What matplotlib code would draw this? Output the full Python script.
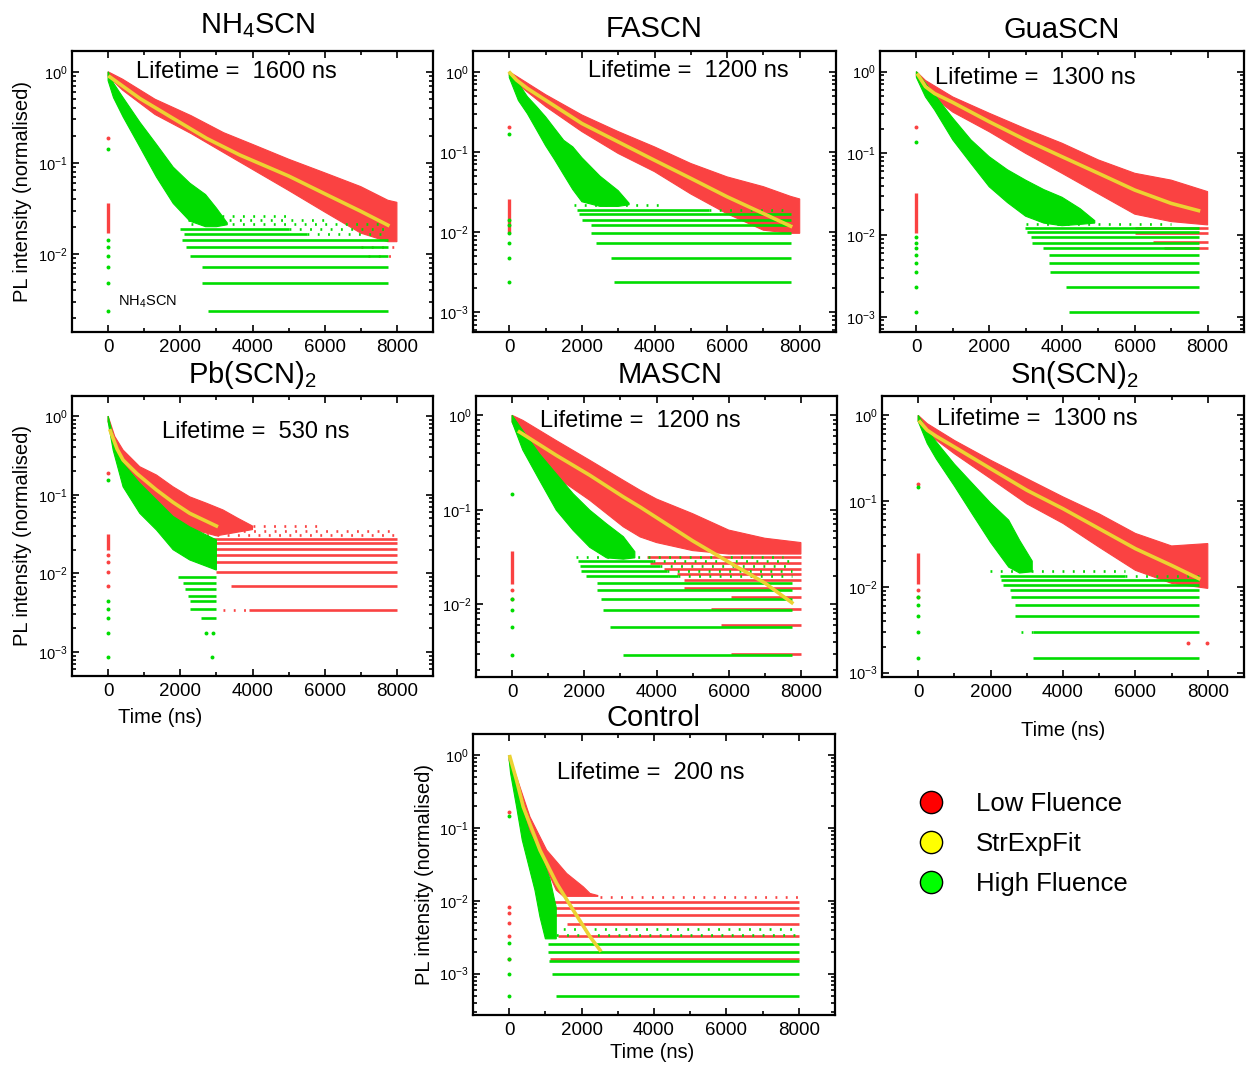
import numpy as np
import matplotlib
matplotlib.use('Agg')
import matplotlib.pyplot as plt
from matplotlib.lines import Line2D
from matplotlib.ticker import LogLocator, MultipleLocator, LogFormatterSciNotation, NullFormatter

plt.rcParams['font.family'] = ['Liberation Sans', 'DejaVu Sans']
plt.rcParams['mathtext.fontset'] = 'custom'
plt.rcParams['mathtext.rm'] = 'Liberation Sans'
plt.rcParams['mathtext.it'] = 'Liberation Sans:italic'
plt.rcParams['mathtext.bf'] = 'Liberation Sans:bold'
plt.rcParams['mathtext.default'] = 'regular'

RED = '#fa4242'
GREEN = '#00dc00'
YELLOW = '#ecd232'

# ---------------- NH4SCN ----------------
nh4_red_t = [0, 400, 1300, 2300, 3200, 4000, 5000, 6000, 7000, 7750, 8000]
nh4_red_top = [1.0, 0.83, 0.50, 0.33, 0.215, 0.16, 0.11, 0.078, 0.055, 0.039, 0.037]
nh4_red_bot = [0.90, 0.63, 0.34, 0.21, 0.13, 0.085, 0.050, 0.029, 0.017, 0.0137, 0.0137]
nh4_grn_t = [0, 150, 416, 879, 1340, 1803, 2266, 2700, 3000, 3300]
nh4_grn_top = [1.0, 0.75, 0.52, 0.28, 0.16, 0.09, 0.06, 0.045, 0.032, 0.022]
nh4_grn_bot = [0.80, 0.52, 0.32, 0.15, 0.07, 0.036, 0.023, 0.020, 0.020, 0.021]
nh4_fit_t = [47, 879, 1803, 2730, 3653, 5000, 6000, 7000, 7750]
nh4_fit_y = [0.88, 0.51, 0.308, 0.186, 0.122, 0.072, 0.046, 0.0295, 0.0208]
nh4_grn_rows = [0.0191, 0.0167, 0.0143, 0.0119, 0.0096, 0.0073, 0.0048, 0.0024]
nh4_grn_from = [1990, 2100, 2060, 2170, 2270, 2610, 2610, 2780]
nh4_grn_to = [5000, 5500, 7750, 7750, 7750, 7750, 7750, 7750]
nh4_grn_sparse = [0.0263, 0.0239, 0.0215, 0.0191, 0.0167]
nh4_grn_sparse_from = [2300, 2200, 2300, 5000, 5500]
nh4_grn_sparse_to = [5000, 6000, 7500, 7750, 7750]
nh4_red_sparse = [0.0119, 0.0096]
nh4_red_sparse_from = [7000, 7200]
nh4_red_sparse_to = [8000, 8000]
nh4_red_zero = [0.017, 0.036]
nh4_red_zero_pts = [0.19]
nh4_grn_zero_pts = [0.144, 0.0143, 0.0119, 0.0096, 0.0073, 0.0048, 0.0024]

# ---------------- FASCN ----------------
fa_red_t = [0, 200, 1000, 2000, 3000, 4000, 5000, 6000, 7000, 7750, 8000]
fa_red_top = [1.0, 0.88, 0.52, 0.29, 0.18, 0.116, 0.072, 0.049, 0.037, 0.028, 0.026]
fa_red_bot = [0.90, 0.72, 0.37, 0.18, 0.096, 0.057, 0.030, 0.017, 0.0106, 0.0097, 0.0097]
fa_grn_t = [0, 250, 500, 750, 1000, 1250, 1500, 1750, 2000, 2500, 3000, 3300]
fa_grn_top = [1.0, 0.72, 0.49, 0.37, 0.275, 0.196, 0.14, 0.116, 0.085, 0.05, 0.033, 0.023]
fa_grn_bot = [0.85, 0.44, 0.30, 0.19, 0.12, 0.08, 0.052, 0.034, 0.024, 0.021, 0.021, 0.022]
fa_fit_t = [20, 200, 500, 1000, 2000, 3000, 4000, 5000, 6000, 7000, 7750]
fa_fit_y = [0.97, 0.79, 0.62, 0.444, 0.227, 0.134, 0.079, 0.047, 0.0277, 0.0171, 0.0119]
fa_grn_rows = [0.0192, 0.0168, 0.0144, 0.0122, 0.0097, 0.0073, 0.0048, 0.0024]
fa_grn_from = [1860, 1910, 2000, 2250, 2250, 2390, 2790, 2880]
fa_grn_to = [5500, 7750, 7750, 7750, 7750, 7750, 7750, 7750]
fa_grn_sparse = [0.0218, 0.0192]
fa_grn_sparse_from = [1790, 5500]
fa_grn_sparse_to = [4200, 7750]
fa_red_zero = [0.0097, 0.026]
fa_red_zero_pts = [0.206]
fa_grn_zero_pts = [0.166, 0.0144, 0.0122, 0.0097, 0.0073, 0.0048, 0.0024]

# ---------------- GuaSCN ----------------
gua_red_t = [0, 250, 1000, 2000, 3000, 4000, 5000, 6000, 7000, 8000]
gua_red_top = [1.0, 0.78, 0.49, 0.31, 0.20, 0.133, 0.083, 0.057, 0.047, 0.034]
gua_red_bot = [0.88, 0.58, 0.32, 0.184, 0.10, 0.057, 0.032, 0.018, 0.0146, 0.0133]
gua_grn_t = [0, 250, 500, 1000, 1500, 2000, 2500, 3000, 3500, 4000, 4500, 4900]
gua_grn_top = [1.0, 0.72, 0.52, 0.27, 0.146, 0.091, 0.063, 0.047, 0.036, 0.029, 0.021, 0.015]
gua_grn_bot = [0.85, 0.49, 0.34, 0.146, 0.075, 0.039, 0.025, 0.017, 0.014, 0.013, 0.0135, 0.014]
gua_fit_t = [46, 250, 500, 1000, 2000, 3000, 4000, 5000, 6000, 7000, 7750]
gua_fit_y = [0.91, 0.655, 0.54, 0.42, 0.244, 0.146, 0.091, 0.057, 0.0355, 0.0244, 0.0199]
gua_grn_rows = [0.0123, 0.0108, 0.0094, 0.0081, 0.0069, 0.0057, 0.0045, 0.0035, 0.0023, 0.00115]
gua_grn_from = [2990, 3030, 3140, 3170, 3490, 3630, 3630, 3680, 4120, 4180]
gua_grn_to = [7750] * 10
gua_grn_sparse = [0.0138]
gua_grn_sparse_from = [3000]
gua_grn_sparse_to = [7000]
gua_red_rows = [0.0123, 0.0106, 0.0083, 0.0069]
gua_red_from = [6000, 6000, 6500, 6800]
gua_red_to = [8000, 8000, 8000, 8000]
gua_red_zero = [0.0105, 0.033]
gua_red_zero_pts = [0.21]
gua_grn_zero_pts = [0.139, 0.0094, 0.0081, 0.0069, 0.0057, 0.0045, 0.0035, 0.0023, 0.00115]

# ---------------- Pb(SCN)2 ----------------
pb_red_top_t = [0, 185, 415, 877, 1340, 1800, 2261, 2723, 3184, 3600, 4000]
pb_red_top = [1.0, 0.55, 0.37, 0.227, 0.178, 0.126, 0.094, 0.078, 0.064, 0.05, 0.04]
pb_red_bot_t = [0, 500, 1000, 2000, 3000, 4000]
pb_red_bot = [0.85, 0.2, 0.1, 0.04, 0.03, 0.036]
pb_grn_t = [0, 140, 415, 877, 1340, 1800, 2261, 3000]
pb_grn_top = [1.0, 0.55, 0.25, 0.14, 0.086, 0.053, 0.039, 0.0266]
pb_grn_bot = [0.85, 0.37, 0.126, 0.058, 0.0356, 0.02, 0.0148, 0.011]
pb_fit_t = [60, 250, 415, 800, 1340, 1800, 2261, 3000]
pb_fit_y = [0.65, 0.38, 0.276, 0.185, 0.115, 0.080, 0.058, 0.040]
pb_grn_rows = [0.0091, 0.0075, 0.0063, 0.0052, 0.0044, 0.0035, 0.0027]
pb_grn_from = [1940, 2080, 2120, 2210, 2260, 2260, 2580]
pb_grn_to = [3000] * 7
pb_grn_dots_t = [2720, 2900, 2870]
pb_grn_dots_y = [0.00176, 0.00176, 0.00087]
pb_red_rows = [0.0276, 0.0241, 0.0207, 0.0172, 0.0138, 0.01035, 0.0069, 0.00345]
pb_red_from = [2120, 2170, 2540, 2720, 3000, 3000, 3410, 3900]
pb_red_to = [8000] * 8
pb_red_sparse = [0.040, 0.0345, 0.031, 0.00345]
pb_red_sparse_from = [4000, 3460, 2170, 3180]
pb_red_sparse_to = [6000, 8000, 8000, 3900]
pb_red_zero = [0.0198, 0.032]
pb_red_zero_pts = [0.187, 0.0172, 0.0138, 0.0105, 0.0069]
pb_grn_zero_pts = [0.154, 0.0044, 0.0035, 0.0027, 0.00176, 0.00087]

# ---------------- MASCN ----------------
ma_red_t = [0, 295, 1225, 2153, 3081, 3546, 4000, 5000, 6000, 7000, 8000]
ma_red_top = [1.0, 0.885, 0.54, 0.334, 0.205, 0.161, 0.13, 0.091, 0.061, 0.05, 0.045]
ma_red_bot = [0.85, 0.50, 0.222, 0.126, 0.066, 0.0516, 0.045, 0.037, 0.034, 0.034, 0.034]
ma_grn_t = [0, 295, 760, 1225, 1690, 2153, 2617, 3081, 3400]
ma_grn_top = [1.0, 0.69, 0.39, 0.24, 0.148, 0.099, 0.071, 0.052, 0.036]
ma_grn_bot = [0.85, 0.43, 0.205, 0.099, 0.0607, 0.040, 0.031, 0.030, 0.031]
ma_fit_t = [203, 1225, 2153, 3081, 3546, 5000, 6000, 7000, 7750]
ma_fit_y = [0.667, 0.377, 0.232, 0.137, 0.107, 0.047, 0.028, 0.0168, 0.0104]
ma_grn_rows = [0.0288, 0.0255, 0.0225, 0.0198, 0.0169, 0.0143, 0.0115, 0.00864, 0.00575, 0.00288]
ma_grn_from = [1830, 1870, 1920, 2060, 2340, 2340, 2450, 2520, 2710, 3080]
ma_grn_to = [3900, 4100, 4300, 4600, 7750, 7750, 7750, 7750, 7750, 7750]
ma_grn_sparse = [0.0317, 0.0288, 0.0255, 0.0225, 0.0198]
ma_grn_sparse_from = [1780, 3900, 4100, 4300, 4600]
ma_grn_sparse_to = [7500, 7750, 7750, 7750, 7750]
ma_red_rows = [0.0317, 0.0276, 0.0238, 0.0208, 0.018, 0.0149, 0.012, 0.009, 0.006, 0.003]
ma_red_from = [3730, 3820, 4200, 4570, 4750, 4750, 6050, 5500, 5800, 6050]
ma_red_to = [8000] * 10
ma_red_zero = [0.0165, 0.037]
ma_red_zero_pts = [0.0143, 0.0115]
ma_grn_zero_pts = [0.148, 0.0115, 0.0086, 0.0058, 0.0029]

# ---------------- Sn(SCN)2 ----------------
sn_red_t = [0, 250, 1000, 2000, 3000, 4000, 5000, 6000, 7000, 8000]
sn_red_top = [1.0, 0.80, 0.51, 0.30, 0.183, 0.112, 0.071, 0.042, 0.030, 0.032]
sn_red_bot = [0.85, 0.62, 0.357, 0.183, 0.093, 0.055, 0.029, 0.0156, 0.011, 0.0096]
sn_grn_t = [0, 250, 500, 1000, 1500, 2000, 2500, 2800, 3150]
sn_grn_top = [1.0, 0.67, 0.49, 0.27, 0.16, 0.095, 0.06, 0.035, 0.02]
sn_grn_bot = [0.85, 0.47, 0.31, 0.15, 0.07, 0.033, 0.017, 0.0145, 0.015]
sn_fit_t = [50, 250, 500, 1000, 2000, 3000, 4000, 5000, 6000, 7000, 7750]
sn_fit_y = [0.84, 0.67, 0.57, 0.428, 0.239, 0.134, 0.0816, 0.0477, 0.0279, 0.0178, 0.0125]
sn_grn_rows = [0.0135, 0.0119, 0.0106, 0.0091, 0.0076, 0.0061, 0.0046, 0.0030, 0.0015]
sn_grn_from = [2250, 2300, 2340, 2530, 2550, 2670, 2670, 3180, 3180]
sn_grn_to = [5700, 7750, 7750, 7750, 7750, 7750, 7750, 7750, 7750]
sn_grn_sparse = [0.0153, 0.0135, 0.0030]
sn_grn_sparse_from = [1970, 5700, 2850]
sn_grn_sparse_to = [5700, 7750, 3180]
sn_red_dots_t = [7440, 7980]
sn_red_dots_y = [0.0022, 0.0022]
sn_red_zero = [0.0109, 0.0245]
sn_red_zero_pts = [0.16, 0.0091, 0.0076]
sn_grn_zero_pts = [0.146, 0.0076, 0.0061, 0.0046, 0.0030, 0.0015]

# ---------------- Control ----------------
ct_red_top_t = [0, 296, 573, 1035, 1589, 2050, 2234, 2450]
ct_red_top = [1.0, 0.367, 0.142, 0.0496, 0.0237, 0.0155, 0.0126, 0.0118]
ct_red_bot_t = [0, 200, 400, 700, 1000, 1300, 1500, 2450]
ct_red_bot = [0.85, 0.3, 0.15, 0.06, 0.03, 0.014, 0.0115, 0.0115]
ct_grn_top_t = [0, 158, 343, 555, 900, 1126, 1300]
ct_grn_top = [1.0, 0.56, 0.195, 0.09, 0.04, 0.02, 0.008]
ct_grn_bot_t = [0, 39, 204, 361, 711, 850, 1000, 1300]
ct_grn_bot = [0.85, 0.56, 0.195, 0.068, 0.014, 0.006, 0.003, 0.003]
ct_fit_t = [19, 204, 388, 850, 1312, 1771, 2234, 2510]
ct_fit_y = [0.95, 0.45, 0.195, 0.0496, 0.0173, 0.0074, 0.0032, 0.0021]
ct_grn_rows = [0.00253, 0.00198, 0.00149, 0.001, 0.00049]
ct_grn_from = [1060, 1060, 1110, 1170, 1290]
ct_grn_to = [8000] * 5
ct_grn_sparse = [0.00415, 0.00336]
ct_grn_sparse_from = [1220, 1030]
ct_grn_sparse_to = [8000, 8000]
ct_red_rows = [0.00964, 0.00806, 0.00646, 0.00486, 0.00329, 0.00161]
ct_red_from = [1170, 1030, 1220, 1590, 1360, 1130]
ct_red_to = [8000] * 6
ct_red_sparse = [0.0113]
ct_red_sparse_from = [2510]
ct_red_sparse_to = [8000]
ct_red_zero_pts = [0.166, 0.0083, 0.0067, 0.005, 0.0033, 0.0016]
ct_grn_zero_pts = [0.145, 0.0026, 0.0016, 0.001, 0.0005]

titles = [r'NH$_4$SCN', 'FASCN', 'GuaSCN', r'Pb(SCN)$_2$', 'MASCN', r'Sn(SCN)$_2$', 'Control']
lifetimes = [1600, 1200, 1300, 530, 1200, 1300, 200]

W, H = 1251, 1068
fig = plt.figure(figsize=(W / 100, H / 100), dpi=100)


def new_axes(l, t, r, b):
    return fig.add_axes([l / W, 1 - b / H, (r - l) / W, (b - t) / H])


def cloud(ax, top_t, top_y, bot_t, bot_y, color, z):
    xs = list(top_t) + list(bot_t)[::-1]
    ys = list(top_y) + list(bot_y)[::-1]
    ax.fill(xs, ys, color=color, lw=0.8, zorder=z)


def rows(ax, y, x0, x1, color, z, sparse=False):
    if sparse:
        ax.hlines(y, x0, x1, colors=color, lw=1.9, linestyles=(0, (0.7, 3.2)), zorder=z)
    else:
        ax.hlines(y, x0, x1, colors=color, lw=1.9, zorder=z)


def zero_col(ax, pts, color, z, strip=None):
    if strip is not None:
        ax.vlines(0, strip[0], strip[1], colors=color, lw=2.4, zorder=z)
    ax.scatter(np.zeros(len(pts)), pts, s=8, color=color, lw=0, zorder=z)


def style(ax, ylim, title, tpad, tx, life, lx, ly):
    ax.set_yscale('log')
    ax.set_xlim(-1000, 9000)
    ax.set_ylim(*ylim)
    ax.xaxis.set_major_locator(MultipleLocator(2000))
    ax.xaxis.set_minor_locator(MultipleLocator(1000))
    ax.yaxis.set_major_locator(LogLocator(base=10, numticks=10))
    ax.yaxis.set_minor_locator(LogLocator(base=10, subs=np.arange(2, 10), numticks=20))
    ax.yaxis.set_major_formatter(LogFormatterSciNotation())
    ax.yaxis.set_minor_formatter(NullFormatter())
    ax.tick_params(which='both', direction='in', top=True, right=True, width=1.2)
    ax.tick_params(which='major', length=5)
    ax.tick_params(which='minor', length=3)
    ax.tick_params(axis='x', labelsize=13.5, pad=5)
    ax.tick_params(axis='y', labelsize=10.5, pad=3)
    for s in ax.spines.values():
        s.set_linewidth(1.6)
    ax.set_title(title, fontsize=21, pad=tpad, x=tx)
    ax.text(lx, ly, 'Lifetime =  %d ns' % life, transform=ax.transAxes,
            fontsize=17, ha='left', va='center', zorder=10)


ylims = [(0.0014, 1.69), (0.00057, 1.82), (0.00065, 1.79), (0.000495, 1.80),
         (0.0017, 1.6), (0.00089, 1.68), (0.00027, 1.95)]

# ---- panel 1: NH4SCN
ax1 = new_axes(72, 51, 433, 332)
cloud(ax1, nh4_red_t, nh4_red_top, nh4_red_t, nh4_red_bot, RED, 1)
rows(ax1, nh4_red_sparse, nh4_red_sparse_from, nh4_red_sparse_to, RED, 1, sparse=True)
zero_col(ax1, nh4_red_zero_pts, RED, 1, nh4_red_zero)
cloud(ax1, nh4_grn_t, nh4_grn_top, nh4_grn_t, nh4_grn_bot, GREEN, 2)
rows(ax1, nh4_grn_rows, nh4_grn_from, nh4_grn_to, GREEN, 2)
rows(ax1, nh4_grn_sparse, nh4_grn_sparse_from, nh4_grn_sparse_to, GREEN, 2, sparse=True)
zero_col(ax1, nh4_grn_zero_pts, GREEN, 2)
ax1.plot(nh4_fit_t, nh4_fit_y, color=YELLOW, lw=2.6, zorder=3)
style(ax1, ylims[0], titles[0], 13, 0.515, lifetimes[0], 0.177, 0.925)
ax1.text(0.127, 0.107, r'NH$_4$SCN', transform=ax1.transAxes, fontsize=10.5, va='center')

# ---- panel 2: FASCN
ax2 = new_axes(473, 51, 836, 332)
cloud(ax2, fa_red_t, fa_red_top, fa_red_t, fa_red_bot, RED, 1)
zero_col(ax2, fa_red_zero_pts, RED, 1, fa_red_zero)
cloud(ax2, fa_grn_t, fa_grn_top, fa_grn_t, fa_grn_bot, GREEN, 2)
rows(ax2, fa_grn_rows, fa_grn_from, fa_grn_to, GREEN, 2)
rows(ax2, fa_grn_sparse, fa_grn_sparse_from, fa_grn_sparse_to, GREEN, 2, sparse=True)
zero_col(ax2, fa_grn_zero_pts, GREEN, 2)
ax2.plot(fa_fit_t, fa_fit_y, color=YELLOW, lw=2.6, zorder=3)
style(ax2, ylims[1], titles[1], 10, 0.5, lifetimes[1], 0.317, 0.929)

# ---- panel 3: GuaSCN
ax3 = new_axes(880, 51, 1244, 332)
cloud(ax3, gua_red_t, gua_red_top, gua_red_t, gua_red_bot, RED, 1)
rows(ax3, gua_red_rows, gua_red_from, gua_red_to, RED, 1)
zero_col(ax3, gua_red_zero_pts, RED, 1, gua_red_zero)
cloud(ax3, gua_grn_t, gua_grn_top, gua_grn_t, gua_grn_bot, GREEN, 2)
rows(ax3, gua_grn_rows, gua_grn_from, gua_grn_to, GREEN, 2)
rows(ax3, gua_grn_sparse, gua_grn_sparse_from, gua_grn_sparse_to, GREEN, 2, sparse=True)
zero_col(ax3, gua_grn_zero_pts, GREEN, 2)
ax3.plot(gua_fit_t, gua_fit_y, color=YELLOW, lw=2.6, zorder=3)
style(ax3, ylims[2], titles[2], 9.5, 0.5, lifetimes[2], 0.151, 0.904)

# ---- panel 4: Pb(SCN)2
ax4 = new_axes(72, 396, 433, 676)
cloud(ax4, pb_red_top_t, pb_red_top, pb_red_bot_t, pb_red_bot, RED, 1)
rows(ax4, pb_red_rows, pb_red_from, pb_red_to, RED, 1)
rows(ax4, pb_red_sparse, pb_red_sparse_from, pb_red_sparse_to, RED, 1, sparse=True)
zero_col(ax4, pb_red_zero_pts, RED, 1, pb_red_zero)
cloud(ax4, pb_grn_t, pb_grn_top, pb_grn_t, pb_grn_bot, GREEN, 2)
rows(ax4, pb_grn_rows, pb_grn_from, pb_grn_to, GREEN, 2)
ax4.scatter(pb_grn_dots_t, pb_grn_dots_y, s=8, color=GREEN, lw=0, zorder=2)
zero_col(ax4, pb_grn_zero_pts, GREEN, 2)
ax4.plot(pb_fit_t, pb_fit_y, color=YELLOW, lw=2.6, zorder=3)
style(ax4, ylims[3], titles[3], 9.5, 0.5, lifetimes[3], 0.249, 0.871)

# ---- panel 5: MASCN
ax5 = new_axes(476, 396, 837, 677)
cloud(ax5, ma_red_t, ma_red_top, ma_red_t, ma_red_bot, RED, 1)
rows(ax5, ma_red_rows, ma_red_from, ma_red_to, RED, 1)
zero_col(ax5, ma_red_zero_pts, RED, 1, ma_red_zero)
cloud(ax5, ma_grn_t, ma_grn_top, ma_grn_t, ma_grn_bot, GREEN, 2)
rows(ax5, ma_grn_rows, ma_grn_from, ma_grn_to, GREEN, 2)
rows(ax5, ma_grn_sparse, ma_grn_sparse_from, ma_grn_sparse_to, GREEN, 2, sparse=True)
zero_col(ax5, ma_grn_zero_pts, GREEN, 2)
ax5.plot(ma_fit_t, ma_fit_y, color=YELLOW, lw=2.6, zorder=3)
style(ax5, ylims[4], titles[4], 9.5, 0.537, lifetimes[4], 0.178, 0.91)

# ---- panel 6: Sn(SCN)2
ax6 = new_axes(882, 396, 1244, 677)
cloud(ax6, sn_red_t, sn_red_top, sn_red_t, sn_red_bot, RED, 1)
ax6.scatter(sn_red_dots_t, sn_red_dots_y, s=8, color=RED, lw=0, zorder=1)
zero_col(ax6, sn_red_zero_pts, RED, 1, sn_red_zero)
cloud(ax6, sn_grn_t, sn_grn_top, sn_grn_t, sn_grn_bot, GREEN, 2)
rows(ax6, sn_grn_rows, sn_grn_from, sn_grn_to, GREEN, 2)
rows(ax6, sn_grn_sparse, sn_grn_sparse_from, sn_grn_sparse_to, GREEN, 2, sparse=True)
zero_col(ax6, sn_grn_zero_pts, GREEN, 2)
ax6.plot(sn_fit_t, sn_fit_y, color=YELLOW, lw=2.6, zorder=3)
style(ax6, ylims[5], titles[5], 9.5, 0.533, lifetimes[5], 0.152, 0.917)

# ---- panel 7: Control
ax7 = new_axes(473, 734, 835, 1015)
cloud(ax7, ct_red_top_t, ct_red_top, ct_red_bot_t, ct_red_bot, RED, 1)
rows(ax7, ct_red_rows, ct_red_from, ct_red_to, RED, 1)
rows(ax7, ct_red_sparse, ct_red_sparse_from, ct_red_sparse_to, RED, 1, sparse=True)
zero_col(ax7, ct_red_zero_pts, RED, 1)
cloud(ax7, ct_grn_top_t, ct_grn_top, ct_grn_bot_t, ct_grn_bot, GREEN, 2)
rows(ax7, ct_grn_rows, ct_grn_from, ct_grn_to, GREEN, 2)
rows(ax7, ct_grn_sparse, ct_grn_sparse_from, ct_grn_sparse_to, GREEN, 2, sparse=True)
zero_col(ax7, ct_grn_zero_pts, GREEN, 2)
ax7.plot(ct_fit_t, ct_fit_y, color=YELLOW, lw=2.6, zorder=3)
style(ax7, ylims[6], titles[6], 6, 0.5, lifetimes[6], 0.233, 0.86)

# axis labels
for ax in (ax1, ax4, ax7):
    ax.set_ylabel('PL intensity (normalised)', fontsize=14.5)
ax1.yaxis.set_label_coords(-0.112, 0.5)
ax4.yaxis.set_label_coords(-0.112, 0.5)
ax7.yaxis.set_label_coords(-0.109, 0.5)
for ax in (ax4, ax6, ax7):
    ax.set_xlabel('Time (ns)', fontsize=14.5)
ax4.xaxis.set_label_coords(0.244, -0.113)
ax6.xaxis.set_label_coords(0.5, -0.155)
ax7.xaxis.set_label_coords(0.495, -0.1)

# legend
handles = [Line2D([], [], ls='none', marker='o', ms=16, mfc=c, mec='black', mew=1.0)
           for c in ('#ff0000', '#ffff00', '#00ff00')]
fig.legend(handles, ['Low Fluence', 'StrExpFit', 'High Fluence'],
           loc='upper left', bbox_to_anchor=(918 / W, 1 - 792 / H),
           frameon=False, fontsize=18.5, handlelength=1.0, handletextpad=1.25,
           labelspacing=0.62, borderpad=0, borderaxespad=0)

fig.savefig('out.png', dpi=100)
